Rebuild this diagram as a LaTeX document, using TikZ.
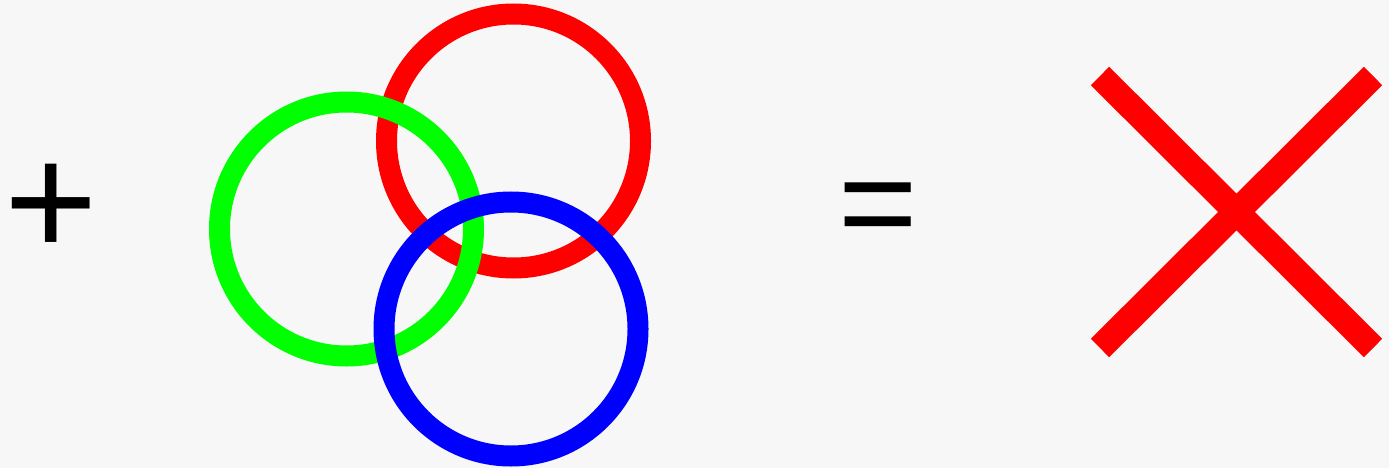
\documentclass[tikz,border=0pt]{standalone}
\usepackage{fontspec}
\setmainfont{Liberation Sans}
\usepackage{xcolor}
\usetikzlibrary{positioning}

\definecolor{bgback}{HTML}{F7F7F7}
\definecolor{ringred}{HTML}{FF0000}
\definecolor{ringgreen}{HTML}{00FF00}
\definecolor{ringblue}{HTML}{0000FF}

\begin{document}
\begin{tikzpicture}[x=1pt, y=-1pt,
    ring/.style={circle, draw, line width=21pt, minimum size=254pt, inner sep=0pt},
    sign/.style={font=\fontsize{160}{164}\selectfont, inner sep=0pt}]
    \fill [bgback] (0,0) rectangle (1389,468);
    \useasboundingbox (0,0) rectangle (1389,468);

    \node [sign] (plus) at (51.5,210) {+};

    % red first, then green, blue on top
    \node [ring, draw=ringred] (redring) at (513.5,141) {};
    \node [ring, draw=ringgreen] (greenring) at (346.5,229) {};
    \node [ring, draw=ringblue] (bluering) at (511,329) {};

    \node [sign, font=\fontsize{136}{140}\selectfont] (equals) at (878,216) {=};

    \coordinate (crossnw) at (1100,76);
    \coordinate (crossse) at (1373,348);
    \coordinate (crossne) at (1373,76);
    \coordinate (crosssw) at (1100,348);
    \draw [ringred, line width=26pt] (crossnw) -- (crossse);
    \draw [ringred, line width=26pt] (crossne) -- (crosssw);
\end{tikzpicture}
\end{document}
